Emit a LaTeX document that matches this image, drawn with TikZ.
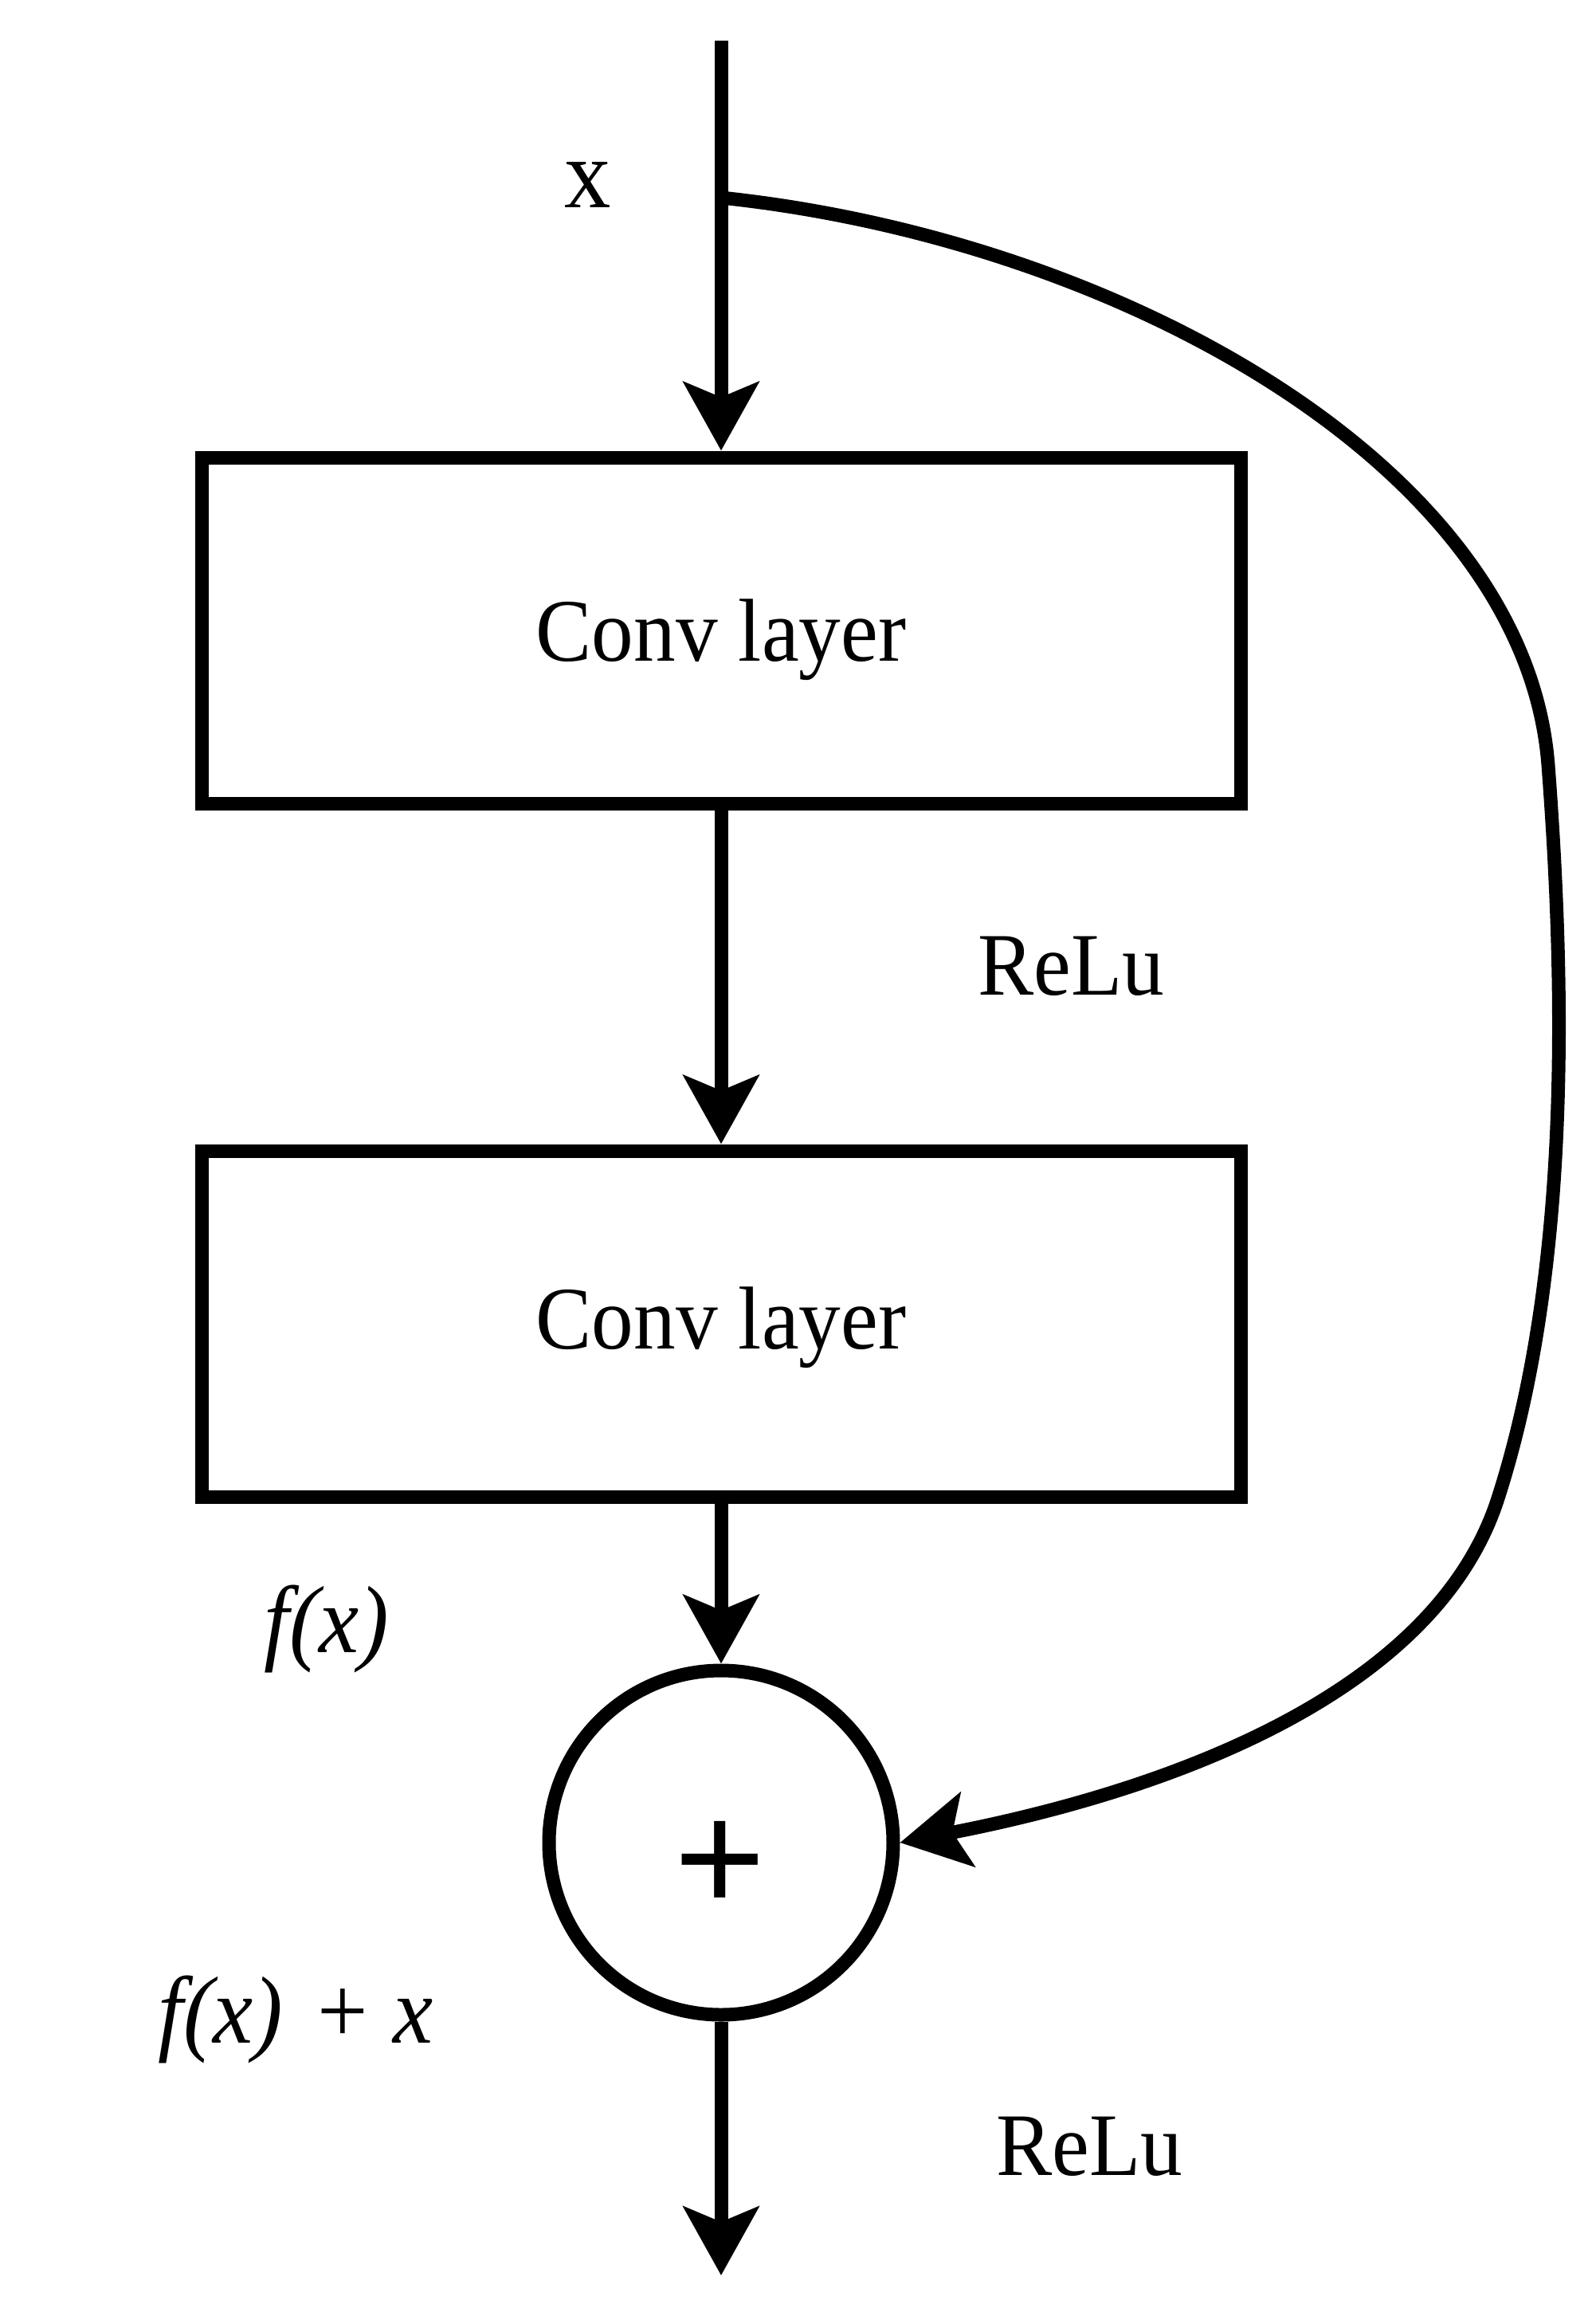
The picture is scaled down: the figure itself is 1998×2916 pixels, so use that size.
\documentclass[tikz,border=0pt]{standalone}
\usepackage{fontspec}
\setmainfont{Liberation Serif}[FakeStretch=0.94]
\newfontfamily\plusfont{Liberation Sans}
\usetikzlibrary{arrows.meta}
\begin{document}
\begin{tikzpicture}[x=0.25pt,y=-0.25pt, line width=4.25pt,
  arr/.style={-{Stealth[length=21.5pt,width=23.5pt,inset=4.75pt]}},
  convbox/.style={draw, rectangle, minimum width=326pt, minimum height=108.5pt, inner sep=0pt},
  sumnode/.style={draw, circle, minimum size=108pt, inner sep=0pt},
  lbl/.style={font=\fontsize{28}{30}\selectfont, inner sep=0pt, anchor=base},
  mathlbl/.style={lbl, font=\fontsize{30}{32}\selectfont},
]
\useasboundingbox (0,0) rectangle (1998,2916);
\node[convbox] (box1) at (905,791) {};
\node[convbox] (box2) at (905,1661) {};
\node[sumnode] (sum) at (905,2312) {};

\node[lbl, font=\fontsize{31}{33}\selectfont] (xlbl) at (738,260) {x};
\node[lbl] (conv1) at (905,829) {Conv layer};
\node[lbl] (relu1) at (1344,1248) {ReLu};
\node[lbl] (conv2) at (905,1692) {Conv layer};
\node[mathlbl] (fx) at (410,2073) {\itshape f(x)};
\node[lbl, font=\plusfont\fontsize{49}{50}\selectfont] (plus) at (904,2398) {+};
\node[mathlbl] (fxx) at (371,2563) {{\itshape f(x)}\hspace{0.36em}+\hspace{0.26em}{\itshape x}};
\node[lbl] (relu2) at (1367,2729) {ReLu};

\coordinate (top) at (905,51);
\coordinate (branch) at (905,248);
\coordinate (out) at (905,2855);

\draw[arr] (top) -- (box1.north);
\draw[arr] (box1.south) -- (box2.north);
\draw[arr] (box2.south) -- (sum.north);
\draw[arr] (sum.south) -- (out);
\draw[arr] (branch) .. controls (1400,300) and (1914,583) .. (1943,960)
  .. controls (1965,1250) and (1970,1600) .. (1880,1880)
  .. controls (1799,2132) and (1450,2250) .. (sum.east);
\end{tikzpicture}
\end{document}
